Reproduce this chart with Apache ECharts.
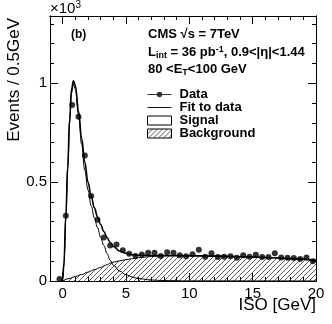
<!DOCTYPE html>
<html><head><meta charset="utf-8">
<script src="https://cdn.jsdelivr.net/npm/echarts@6/dist/echarts.min.js"></script>
<style>html,body{margin:0;padding:0;background:#fff}#c{width:332px;height:324px}</style>
</head><body><div id="c"></div>
<script>
// Data points (bin centres, 0.5 GeV bins), in units of 10^3 events
const dataX = [-0.25,0.25,0.75,1.25,1.75,2.25,2.75,3.25,3.75,4.25,4.75,5.25,5.75,6.25,6.75,7.25,7.75,8.25,8.75,9.25,9.75,10.25,10.75,11.25,11.75,12.25,12.75,13.25,13.75,14.25,14.75,15.25,15.75,16.25,16.75,17.25,17.75,18.25,18.75,19.25,19.75];
const dataY = [0.01,0.33,0.89,0.83,0.635,0.43,0.31,0.22,0.18,0.185,0.155,0.138,0.126,0.134,0.143,0.143,0.126,0.146,0.143,0.13,0.125,0.135,0.158,0.123,0.14,0.121,0.123,0.125,0.118,0.13,0.123,0.133,0.121,0.121,0.14,0.119,0.118,0.116,0.111,0.119,0.10];
// Fit curve samples
const fitX = [-0.1,0,0.1,0.25,0.4,0.55,0.7,0.85,1.0,1.25,1.5,1.75,2.0,2.25,2.5,2.75,3.0,3.25,3.5,3.75,4.0,4.5,5,5.5,6,7,8,10,12,14,16,18,20];
const fitY = [0,0.01,0.09,0.33,0.58,0.82,0.97,1.012,0.99,0.86,0.72,0.6,0.5,0.43,0.37,0.325,0.285,0.25,0.22,0.195,0.175,0.152,0.14,0.133,0.13,0.129,0.129,0.128,0.126,0.123,0.119,0.113,0.105];
// Signal curve samples
const sigX = [0,0.1,0.25,0.4,0.55,0.7,0.85,1.0,1.25,1.5,1.75,2.0,2.25,2.5,2.75,3.0,3.25,3.5,3.75,4.0,4.5,5,5.5,6,7,8,10,20];
const sigY = [0,0.08,0.32,0.57,0.8,0.95,0.995,0.97,0.84,0.69,0.56,0.46,0.38,0.32,0.27,0.22,0.18,0.14,0.105,0.08,0.05,0.032,0.02,0.012,0.005,0.002,0.0005,0];
// Background curve samples
const bgX = [0,0.5,1,1.5,2,2.5,3,3.5,3.75,4,4.5,5,5.5,6,6.5,7,8,9,10,12,14,16,18,20];
const bgY = [0,0.012,0.023,0.033,0.045,0.057,0.069,0.082,0.09,0.095,0.102,0.108,0.113,0.118,0.121,0.124,0.127,0.128,0.128,0.126,0.123,0.119,0.113,0.105];
// Axis ticks
const xMajor = [0,5,10,15,20];
const xMinor = [-1,0,1,2,3,4,5,6,7,8,9,10,11,12,13,14,15,16,17,18,19,20];
const yMajor = [0,0.5,1];
const yMinor = [0,0.1,0.2,0.3,0.4,0.5,0.6,0.7,0.8,0.9,1.0,1.1,1.2,1.3];
const yLabels = {0:'0',0.5:'0.5',1:'1'};

const zip = (a,b)=>a.map((v,i)=>[v,b[i]]);
const pc = document.createElement('canvas'); pc.width = pc.height = 5;
const g = pc.getContext('2d'); g.strokeStyle = '#333'; g.lineWidth = 0.8;
g.beginPath(); g.moveTo(0,5); g.lineTo(5,0); g.moveTo(-1,1); g.lineTo(1,-1); g.moveTo(4,6); g.lineTo(6,4); g.stroke();
const hatch = {image: pc, repeat: 'repeat'};

const FONT = '"Liberation Sans", Arial, Helvetica, sans-serif';
const ax = (pos, ticks, len, labels) => ({
  type:'value', position: pos, min: -1, max: 20,
  axisLine:{show:true, onZero:false, lineStyle:{color:'#000', width:1}},
  axisTick:{show:true, inside:true, length:len, customValues:ticks, lineStyle:{color:'#000'}},
  axisLabel:{show:labels, customValues:xMajor, color:'#000', fontSize:15, fontFamily:FONT, margin:5},
  splitLine:{show:false}
});
const ay = (pos, ticks, len, labels) => ({
  type:'value', position: pos, min: 0, max: 1.34,
  axisLine:{show:true, onZero:false, lineStyle:{color:'#000', width:1}},
  axisTick:{show:true, inside:true, length:len, customValues:ticks, lineStyle:{color:'#000'}},
  axisLabel:{show:labels, customValues:yMajor, color:'#000', fontSize:15, fontFamily:FONT, margin:3,
    formatter: v => yLabels[v] !== undefined ? yLabels[v] : ''},
  splitLine:{show:false}
});

const lineIcon = 'path://M0,4.5 L26,4.5 L26,5.5 L0,5.5 Z';
const dataIcon = 'path://M0,4.5 L26,4.5 L26,5.5 L0,5.5 Z M16,5 A3,3 0 1 1 10,5 A3,3 0 1 1 16,5 Z';

const chart = echarts.init(document.getElementById('c'), null, {renderer:'canvas'});
chart.setOption({
  animation:false,
  backgroundColor:'#fff',
  grid:{left:50, right:16, top:16, bottom:43, containLabel:false},
  xAxis:[ax('bottom', xMajor, 8, true), ax('bottom', xMinor, 4, false), ax('top', xMajor, 8, false), ax('top', xMinor, 4, false)],
  yAxis:[ay('left', yMajor, 8, true), ay('left', yMinor, 4, false), ay('right', yMajor, 8, false), ay('right', yMinor, 4, false)],
  legend:{
    orient:'vertical', left:147, top:88, padding:0, itemWidth:24, itemHeight:9, itemGap:0,
    textStyle:{fontSize:13, fontWeight:'bold', fontFamily:FONT, color:'#000', lineHeight:12, padding:[0,0,0,3]},
    data:[
      {name:'Data', icon:dataIcon, itemStyle:{color:'#000', borderWidth:0}},
      {name:'Fit to data', icon:lineIcon, itemStyle:{color:'#000', borderWidth:0}},
      {name:'Signal', icon:'rect', itemStyle:{color:'#fff', borderColor:'#000', borderWidth:1}},
      {name:'Background', icon:'rect', itemStyle:{color:hatch, borderColor:'#000', borderWidth:1}}
    ]
  },
  series:[
    {name:'Background', type:'line', data:zip(bgX,bgY), showSymbol:false, smooth:0.4, smoothMonotone:'x',
      lineStyle:{color:'#000', width:1}, itemStyle:{color:'#000'}, areaStyle:{color:hatch, opacity:1}, z:1},
    {name:'Signal', type:'line', data:zip(sigX,sigY), showSymbol:false, smooth:0.4, smoothMonotone:'x',
      lineStyle:{color:'#000', width:1}, itemStyle:{color:'#fff'}, z:2},
    {name:'Fit to data', type:'line', data:zip(fitX,fitY), showSymbol:false, smooth:0.4, smoothMonotone:'x',
      lineStyle:{color:'#000', width:1.6}, itemStyle:{color:'#000'}, z:3},
    {name:'Data', type:'scatter', data:zip(dataX,dataY), symbol:'circle', symbolSize:6,
      itemStyle:{color:'#000'}, z:4}
  ],
  graphic:[
    {type:'text', left:50, top:0, style:{text:'×10{s|3}', fill:'#000', font:'15px '+FONT,
      rich:{s:{fontSize:10, verticalAlign:'top', padding:[0,0,8,0]}}}},
    {type:'text', x:14, y:18, rotation:Math.PI/2, style:{text:'Events / 0.5GeV', fill:'#000', font:'17px '+FONT, align:'right', verticalAlign:'middle'}},
    {type:'text', right:16, top:297, style:{text:'ISO [GeV]', fill:'#000', font:'17px '+FONT}},
    {type:'text', left:71, top:29, style:{text:'(b)', fill:'#000', font:'bold 12px '+FONT}},
    {type:'text', left:148, top:28, style:{text:'CMS √s = 7TeV', fill:'#000', font:'bold 13px '+FONT}},
    {type:'text', left:148, top:45, style:{text:'L{sub|int} = 36 pb{sup|-1}, 0.9<|η|<1.44', fill:'#000', font:'bold 13px '+FONT,
      rich:{sub:{fontSize:9, fontWeight:'bold', padding:[6,0,0,0]}, sup:{fontSize:9, fontWeight:'bold', padding:[0,0,6,0]}}}},
    {type:'text', left:148, top:63, style:{text:'80 <E{sub|T}<100 GeV', fill:'#000', font:'bold 13px '+FONT,
      rich:{sub:{fontSize:9, fontWeight:'bold', padding:[6,0,0,0]}}}}
  ]
});
</script></body></html>
